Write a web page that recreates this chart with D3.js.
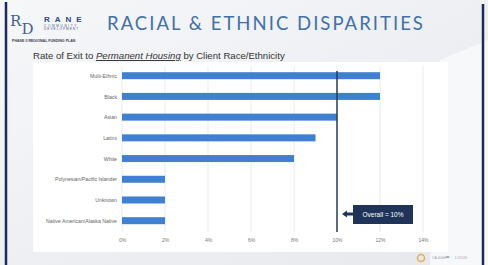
<!DOCTYPE html>
<html>
<head>
<meta charset="utf-8">
<script src="https://cdn.jsdelivr.net/npm/d3@7"></script>
<style>
  body { margin: 0; background: #eef0f3; }
  svg { display: block; font-family: "Liberation Sans", Arial, sans-serif; }
</style>
</head>
<body>
<svg width="488" height="265"></svg>
<script>
// data
var groups = ["Multi-Ethnic", "Black", "Asian", "Latinx", "White",
              "Polynesian/Pacific Islander", "Unknown", "Native American/Alaska Native"];
var exitRates = [12, 12, 10, 9, 8, 2, 2, 2];
var xTicks = [0, 2, 4, 6, 8, 10, 12, 14];
var overallRate = 10;

var svg = d3.select("svg");
var width = 488, height = 265;

// slide background
var defs = svg.append("defs");
var bg = defs.append("linearGradient").attr("id", "bg")
  .attr("x1", 0).attr("y1", 0).attr("x2", 1).attr("y2", 1);
bg.append("stop").attr("offset", "0%").attr("stop-color", "#f6f7f9");
bg.append("stop").attr("offset", "100%").attr("stop-color", "#e6e8ec");
svg.append("rect").attr("width", width).attr("height", height).attr("fill", "url(#bg)");
svg.append("path").attr("d", "M440 60 L488 40 L488 265 L430 265 Z").attr("fill", "#f7f8fa");

// chart panel
svg.append("rect").attr("x", 33).attr("y", 62).attr("width", 415).attr("height", 190).attr("fill", "#ffffff");

// frame lines
svg.append("line").attr("x1", 6).attr("x2", 6).attr("y1", 2).attr("y2", 265)
  .attr("stroke", "#1c2b5a").attr("stroke-width", 2.5);
svg.append("line").attr("x1", 483).attr("x2", 483).attr("y1", 4).attr("y2", 265)
  .attr("stroke", "#1c2b5a").attr("stroke-width", 2.5);

// logo
svg.append("text").attr("x", 10).attr("y", 26).attr("font-family", "DejaVu Serif")
  .attr("font-size", 15).attr("fill", "#3f5f8c").text("R");
svg.append("text").attr("x", 21.5).attr("y", 33.5).attr("font-family", "DejaVu Serif")
  .attr("font-size", 15).attr("fill", "#3f5f8c").text("D");
svg.append("text").attr("x", 44).attr("y", 22).attr("font-size", 8).attr("font-weight", "bold")
  .attr("letter-spacing", 5).attr("fill", "#2d4a7a").text("RANE");
svg.append("text").attr("x", 44).attr("y", 26.5).attr("font-size", 3.2)
  .attr("letter-spacing", 1.6).attr("fill", "#4a5a78").text("COMMUNITY");
svg.append("text").attr("x", 44).attr("y", 30).attr("font-size", 3.2)
  .attr("letter-spacing", 1).attr("fill", "#4a5a78").text("DEVELOPMENT");
svg.append("text").attr("x", 12).attr("y", 41.5).attr("font-size", 3.6).attr("font-weight", "bold")
  .attr("fill", "#3a3f55").text("PHASE II REGIONAL FUNDING PLAN");

// title
svg.append("text").attr("x", 107).attr("y", 30).attr("font-family", "Lato")
  .attr("font-size", 18.5).attr("letter-spacing", 2.1).attr("fill", "#4270a8")
  .attr("textLength", 318).attr("lengthAdjust", "spacing")
  .text("RACIAL & ETHNIC DISPARITIES");

// subtitle
var sub = svg.append("text").attr("x", 33).attr("y", 59).attr("font-size", 9.6).attr("fill", "#333");
sub.append("tspan").text("Rate of Exit to ");
sub.append("tspan").attr("font-style", "italic").attr("text-decoration", "underline").text("Permanent Housing");
sub.append("tspan").text(" by Client Race/Ethnicity");

// scales
var xScale = d3.scaleLinear().domain([0, 14]).range([122, 423]);
var yScale = d3.scalePoint().domain(groups).range([75.7, 220.7]);
var barH = 7;

// gridlines
svg.selectAll(".grid").data(xTicks).enter().append("line")
  .attr("x1", d => xScale(d)).attr("x2", d => xScale(d))
  .attr("y1", 66).attr("y2", 232)
  .attr("stroke", "#e3e5e8").attr("stroke-width", 0.8);

// x axis
var xAxis = d3.axisBottom(xScale).tickValues(xTicks).tickSize(0).tickFormat(d => d + "%");
var gx = svg.append("g").attr("transform", "translate(0,235)").call(xAxis);
gx.select(".domain").remove();
gx.selectAll("text").attr("font-size", 5).attr("fill", "#777").attr("font-family", "Liberation Sans");

// bars
svg.selectAll(".bar").data(exitRates).enter().append("rect")
  .attr("x", xScale(0))
  .attr("y", (d, i) => yScale(groups[i]) - barH / 2)
  .attr("width", d => xScale(d) - xScale(0))
  .attr("height", barH)
  .attr("fill", "#3f80d2");

// category labels
var yAxis = d3.axisLeft(yScale).tickSize(0).tickPadding(5);
var gy = svg.append("g").attr("transform", "translate(" + xScale(0) + ",0)").call(yAxis);
gy.select(".domain").remove();
gy.selectAll("text").attr("font-size", 5.2).attr("fill", "#666").attr("font-family", "Liberation Sans");

// overall line
svg.append("line").attr("x1", xScale(overallRate)).attr("x2", xScale(overallRate))
  .attr("y1", 71).attr("y2", 232).attr("stroke", "#2a3b5e").attr("stroke-width", 1.5);

// callout
var cx = xScale(overallRate);
svg.append("path")
  .attr("d", "M" + (cx + 5) + " 214 L" + (cx + 10) + " 210.5 L" + (cx + 10) + " 212.5 L" + (cx + 16) + " 212.5 L" + (cx + 16) + " 215.5 L" + (cx + 10) + " 215.5 L" + (cx + 10) + " 217.5 Z")
  .attr("fill", "#1f3458");
svg.append("rect").attr("x", cx + 16).attr("y", 205).attr("width", 60).attr("height", 19).attr("fill", "#1f3458");
svg.append("text").attr("x", cx + 46).attr("y", 216.5).attr("text-anchor", "middle")
  .attr("font-size", 6.5).attr("fill", "#ffffff").text("Overall = " + overallRate + "%");

// footer marks
svg.append("circle").attr("cx", 421).attr("cy", 258).attr("r", 3.5)
  .attr("fill", "none").attr("stroke", "#e3b055").attr("stroke-width", 1.5);
svg.append("text").attr("x", 432).attr("y", 259).attr("font-size", 3.5).attr("fill", "#9aa0aa").text("CA-600H");
svg.append("text").attr("x", 446).attr("y", 259).attr("font-size", 6).attr("fill", "#3a4f80").text("\u2248");
svg.append("text").attr("x", 455).attr("y", 259).attr("font-size", 3.5).attr("fill", "#9aa0aa").text("LOCUS");
</script>
</body>
</html>
